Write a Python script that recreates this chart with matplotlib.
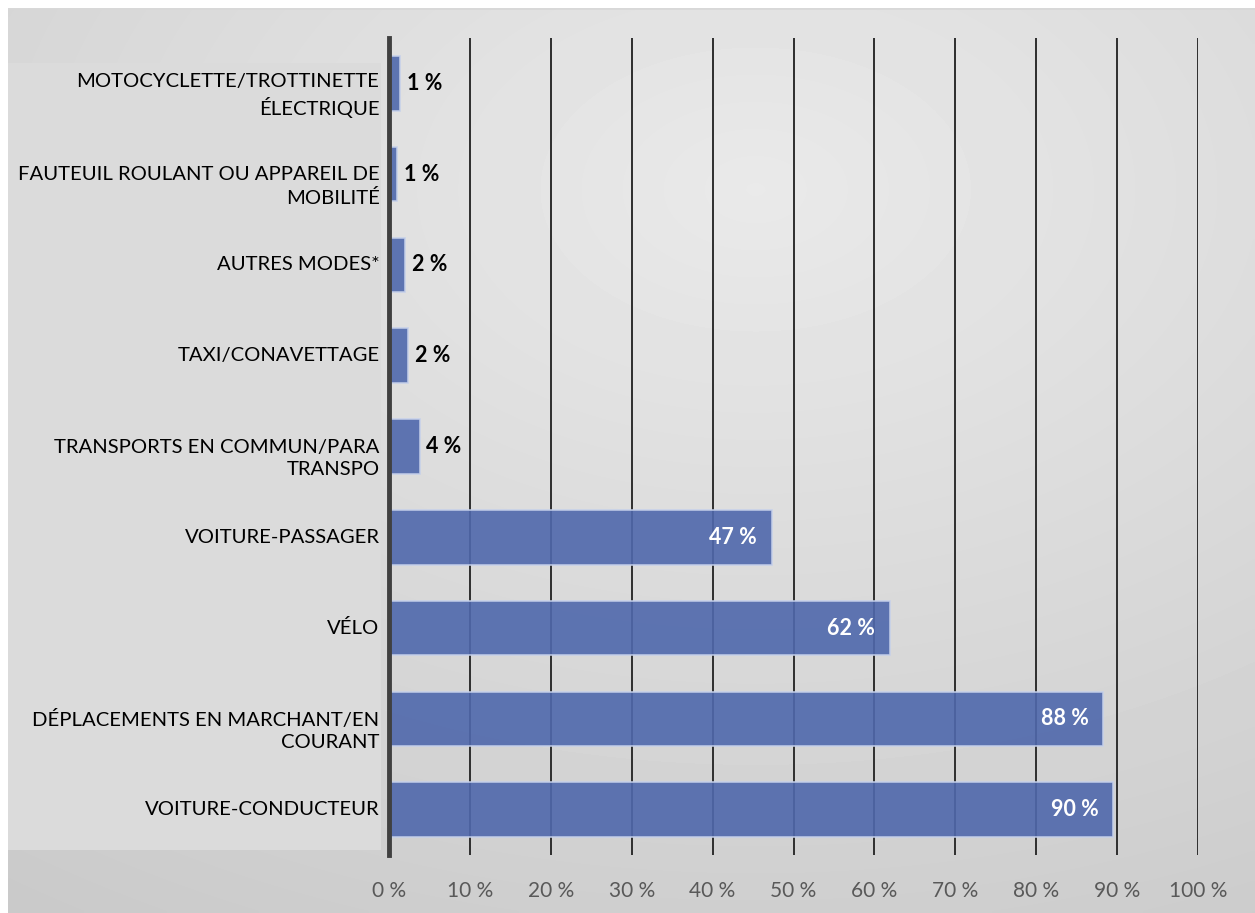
import numpy as np
import matplotlib
matplotlib.use("Agg")
import matplotlib.pyplot as plt
import matplotlib.transforms as mtransforms
from matplotlib.patches import Rectangle

# donnees
categories = [
    "MOTOCYCLETTE/TROTTINETTE\nÉLECTRIQUE",
    "FAUTEUIL ROULANT OU APPAREIL DE\nMOBILITÉ",
    "AUTRES MODES*",
    "TAXI/CONAVETTAGE",
    "TRANSPORTS EN COMMUN/PARA\nTRANSPO",
    "VOITURE-PASSAGER",
    "VÉLO",
    "DÉPLACEMENTS EN MARCHANT/EN\nCOURANT",
    "VOITURE-CONDUCTEUR",
]
values = [1.4, 1.0, 2.0, 2.4, 3.8, 47.3, 61.9, 88.3, 89.5]
labels = ["1 %", "1 %", "2 %", "2 %", "4 %", "47 %", "62 %", "88 %", "90 %"]
xticks = [0, 10, 20, 30, 40, 50, 60, 70, 80, 90, 100]
xtick_labels = [f"{t} %" for t in xticks]

plt.rcParams['font.family'] = ['Lato', 'DejaVu Sans']

W, H = 1255, 913
fig = plt.figure(figsize=(W / 100, H / 100), dpi=100)
fig.patch.set_facecolor('white')

# fond en degrade (gris)
bg = fig.add_axes([8 / W, 0, 1 - 8 / W, 1 - 8 / H])
bg.set_axis_off()
yy, xx = np.mgrid[0:1:200j, 0:1:300j]
r = np.sqrt(((xx - 0.6) / 1.1) ** 2 + ((yy - 0.8) / 1.0) ** 2)
grad = 0.915 - 0.13 * r
bg.imshow(grad, cmap='gray', vmin=0, vmax=1, origin='lower',
          extent=[0, 1, 0, 1], aspect='auto', interpolation='bilinear')
bg.set_xlim(0, 1)
bg.set_ylim(0, 1)
bg.plot([0, 1], [1, 1], color='#d8d8d8', lw=2, transform=bg.transAxes)

# boite claire derriere les etiquettes
fig.patches.append(Rectangle((8 / W, 1 - 850 / H), (381 - 8) / W, (850 - 63) / H,
                             transform=fig.transFigure, facecolor='#dbdbdb',
                             edgecolor='none', zorder=1))

ax = fig.add_axes([389 / W, 1 - 855 / H, (1198 - 389) / W, (855 - 38) / H])
ax.set_facecolor('none')
ax.set_zorder(2)

y = np.arange(len(categories))
ax.barh(y, values, height=0.6, color='#4f68ac', alpha=0.9,
        edgecolor='#c5d0ea', linewidth=1.2, zorder=3)

ax.set_xlim(0, 100)
ax.set_ylim(len(categories) - 0.5, -0.5)
ax.set_xticks(xticks)
ax.set_xticklabels(xtick_labels, fontsize=15, color='#595959')
ax.set_yticks(y)
ax.set_yticklabels([])
ax.tick_params(axis='both', length=0)
ax.tick_params(axis='x', pad=19)

# etiquettes des categories (les etiquettes sur 2 lignes sont decalees vers le bas)
for yi, cat in zip(y, categories):
    dy = -0.12 if "\n" in cat else 0
    tr = ax.get_yaxis_transform() + mtransforms.ScaledTranslation(-0.095, dy, fig.dpi_scale_trans)
    ax.text(0, yi, cat, transform=tr, ha='right', va='center', fontsize=14.6,
            color='black', linespacing=1.38, multialignment='right')

ax.grid(axis='x', color='#2e2e2e', lw=1.4, zorder=2)
for s in ['top', 'right', 'bottom']:
    ax.spines[s].set_visible(False)
ax.spines['left'].set_color('#404040')
ax.spines['left'].set_linewidth(3.5)
ax.spines['left'].set_zorder(4)

for yi, v, lab in zip(y, values, labels):
    if v > 20:
        ax.text(v - 1.8, yi, lab, ha='right', va='center', fontsize=15.5,
                fontweight='bold', color='white', zorder=5)
    else:
        ax.text(v + 0.8, yi, lab, ha='left', va='center', fontsize=15.5,
                fontweight='bold', color='black', zorder=5)

fig.savefig('out.png', dpi=100)
